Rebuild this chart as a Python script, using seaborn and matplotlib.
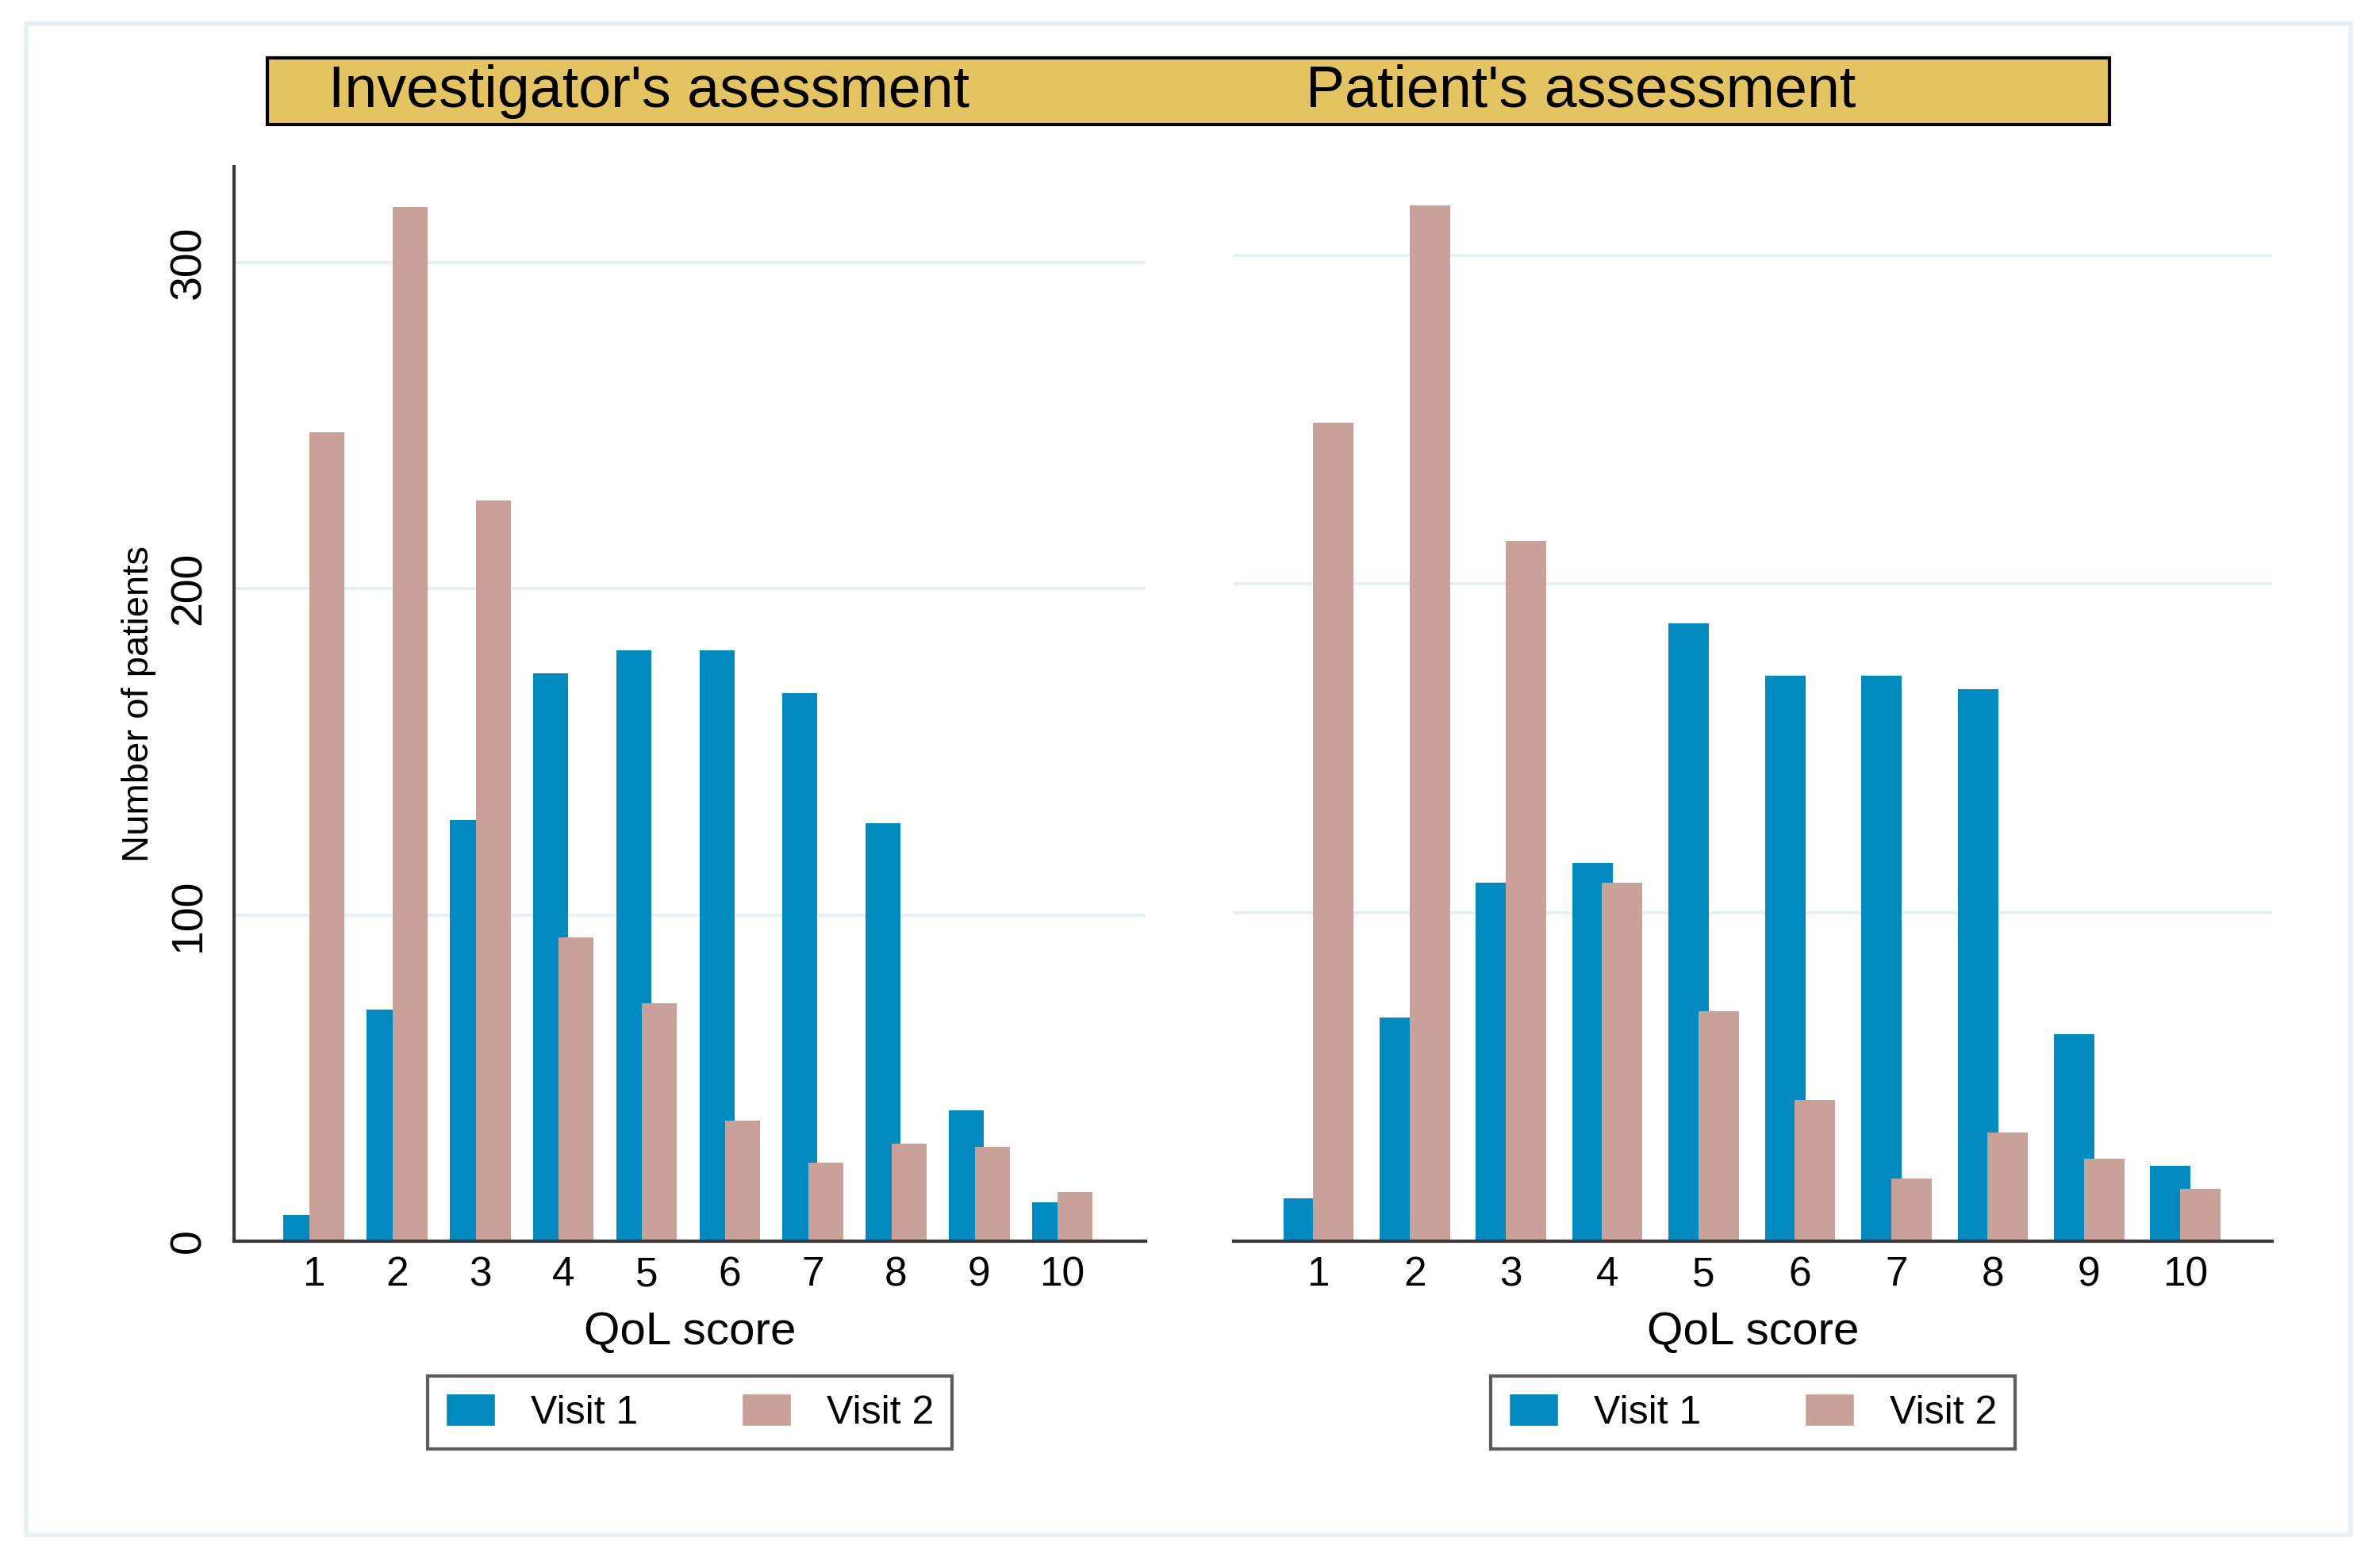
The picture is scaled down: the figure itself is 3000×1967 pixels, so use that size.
import matplotlib
matplotlib.use("Agg")
import matplotlib.pyplot as plt
from matplotlib.patches import Patch, Rectangle
import pandas as pd
import seaborn as sns

# values
scores = list(range(1, 11))
inv_visit1 = [8, 71, 129, 174, 181, 181, 168, 128, 40, 12]
inv_visit2 = [248, 317, 227, 93, 73, 37, 24, 30, 29, 15]
pat_visit1 = [13, 68, 109, 115, 188, 172, 172, 168, 63, 23]
pat_visit2 = [249, 315, 213, 109, 70, 43, 19, 33, 25, 16]

panel_titles = ["Investigator's asessment", "Patient's assessment"]
visit_labels = ["Visit 1", "Visit 2"]
y_ticks = [0, 100, 200, 300]

BLUE = "#008bc0"
ROSE = "#c9a199"
GOLD = "#e4c460"
AXIS = "#3a3a3a"
GRID = "#e6f0f2"

W, H = 3000, 1967


def fx(px):
	return px / W


def fy(py):
	return 1 - py / H


def make_frame(v1, v2):
	return pd.DataFrame({
		"QoL score": scores + scores,
		"Number of patients": v1 + v2,
		"visit": [visit_labels[0]] * len(v1) + [visit_labels[1]] * len(v2),
	})


def main():
	sns.set_style("white")
	plt.rcParams['font.family'] = ['Liberation Sans', 'DejaVu Sans']
	plt.rcParams['text.color'] = 'black'
	plt.rcParams['axes.labelcolor'] = 'black'
	plt.rcParams['xtick.color'] = 'black'
	plt.rcParams['ytick.color'] = 'black'

	fig = plt.figure(figsize=(30, 19.67), dpi=100)

	# faint outer frame
	fig.patches.append(Rectangle((fx(33), fy(1935)), fx(2963) - fx(33), fy(30) - fy(1935),
								 transform=fig.transFigure, fill=False, edgecolor=GRID, linewidth=4))
	# gold title band
	fig.patches.append(Rectangle((fx(337), fy(157)), fx(2659) - fx(337), fy(73) - fy(157),
								 transform=fig.transFigure, facecolor=GOLD, edgecolor="black", linewidth=3))

	panels = [
		dict(df=make_frame(inv_visit1, inv_visit2), x0=295, x1=1444, xlim=(-0.96, 10.0), ytop=329.4,
			 title_x=818, left=True),
		dict(df=make_frame(pat_visit1, pat_visit2), x0=1555, x1=2864, xlim=(-0.88, 9.9), ytop=326.9,
			 title_x=1993, left=False),
	]
	y_base, y_top = 1565, 210

	for title, p in zip(panel_titles, panels):
		fig.text(fx(p["title_x"]), fy(115), title, ha="center", va="center", fontsize=53)

		ax = fig.add_axes([fx(p["x0"]), fy(y_base), fx(p["x1"]) - fx(p["x0"]), (y_base - y_top) / H])
		sns.barplot(data=p["df"], x="QoL score", y="Number of patients", hue="visit",
					palette=[BLUE, ROSE], width=0.62, saturation=1, legend=False, ax=ax)
		# Stata-style overlapping bars: widen each bar around its own centre
		for bar in ax.patches:
			c = bar.get_x() + bar.get_width() / 2
			bar.set_x(c - 0.21)
			bar.set_width(0.42)
			bar.set_linewidth(0)

		ax.set_xlim(*p["xlim"])
		ax.set_ylim(0, p["ytop"])
		ax.set_yticks(y_ticks)
		ax.set_axisbelow(True)
		ax.yaxis.grid(True, color=GRID, linewidth=3)
		ax.xaxis.grid(False)

		for side in ["top", "right"]:
			ax.spines[side].set_visible(False)
		ax.spines["bottom"].set_color(AXIS)
		ax.spines["bottom"].set_linewidth(3)
		ax.spines["left"].set_color(AXIS)
		ax.spines["left"].set_linewidth(3)

		ax.tick_params(axis="x", length=0, labelsize=37, pad=13)
		ax.set_xlabel("QoL score", fontsize=42)
		ax.xaxis.set_label_coords(0.5, (y_base - 1680) / (y_base - y_top))
		ax.xaxis.label.set_va("center")

		if p["left"]:
			ax.tick_params(axis="y", length=15, width=3, color=AXIS, labelcolor="black", labelsize=40, pad=7)
			for lbl in ax.get_yticklabels():
				lbl.set_rotation(90)
				lbl.set_va("center")
			ax.set_ylabel("Number of patients", fontsize=34)
			ax.yaxis.set_label_coords((175 - p["x0"]) / (p["x1"] - p["x0"]), 0.5)
			ax.yaxis.label.set_va("center")
		else:
			ax.spines["left"].set_visible(False)
			ax.tick_params(axis="y", left=False, labelleft=False)
			ax.set_ylabel("")

		handles = [Patch(facecolor=BLUE, label=visit_labels[0]), Patch(facecolor=ROSE, label=visit_labels[1])]
		cx = (p["x0"] + p["x1"]) / 2
		leg = ax.legend(handles=handles, ncol=2, loc="center", bbox_to_anchor=(fx(cx), fy(1781)),
						bbox_transform=fig.transFigure, fontsize=36, frameon=True, fancybox=False,
						edgecolor="#333333", handlelength=1.25, handleheight=0.88, handletextpad=0.9,
						columnspacing=2.6, borderpad=0.45)
		leg.get_frame().set_linewidth(3)

	fig.savefig("out.png", dpi=100)


if __name__ == "__main__":
	main()
